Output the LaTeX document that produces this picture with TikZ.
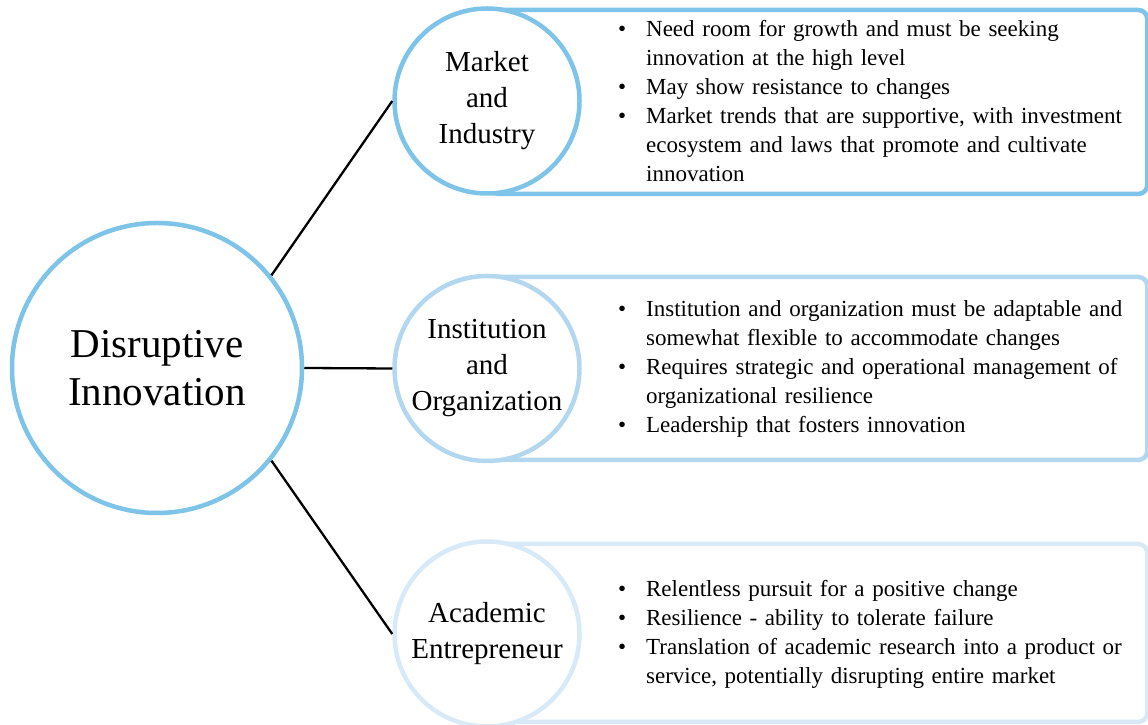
\documentclass[tikz,border=0pt]{standalone}
\usepackage{fontspec}
\setmainfont{Liberation Serif}
\usepackage{enumitem}
\usetikzlibrary{positioning,backgrounds}

\definecolor{bluedeep}{RGB}{126,195,232}
\definecolor{bluemid}{RGB}{178,215,239}
\definecolor{bluepale}{RGB}{216,234,248}

\setlist[itemize]{label=\textbullet, leftmargin=34pt, labelsep=20pt, nosep}

\begin{document}
\begin{tikzpicture}[x=1pt, y=1pt, thick]
    % Styles
    \tikzstyle{hub} = [circle, draw=bluedeep, line width=4.5pt, fill=white, minimum size=290pt, inner sep=0pt, align=center, font=\fontsize{41}{48}\selectfont]
    \tikzstyle{topic} = [circle, line width=4.5pt, fill=white, minimum size=185pt, inner sep=0pt, align=center, font=\fontsize{29}{36}\selectfont]
    \tikzstyle{panel} = [rectangle, rounded corners=9pt, line width=4.5pt, fill=white, minimum width=658pt, anchor=west]
    \tikzstyle{notes} = [text width=530pt, align=left, inner sep=0pt, yshift=6pt, font=\fontsize{23}{29}\selectfont]
    \tikzstyle{link} = [line width=2.3pt]

    \path[use as bounding box, clip] (0,0) rectangle (1148,725);

    % Centre
    \node [hub] (di) at (157,357) {Disruptive\\Innovation};

    % Topics
    \node [topic, draw=bluedeep] (mi) at (487,624) {Market\\and\\Industry};
    \node [topic, draw=bluemid] (io) at (487,356.5) {Institution\\and\\Organization};
    \node [topic, draw=bluepale] (ae) at (487,91) {Academic\\Entrepreneur};

    % Panels behind the topics
    \begin{scope}[on background layer]
        \node [panel, draw=bluedeep, minimum height=184pt] (mipanel) at ([yshift=-1pt]mi.center) {};
        \node [panel, draw=bluemid, minimum height=183pt] (iopanel) at (io.center) {};
        \node [panel, draw=bluepale, minimum height=178pt] (aepanel) at ([yshift=1pt]ae.center) {};
    \end{scope}

    % Connections
    \draw [link] (di.39) -- (mi.west);
    \draw [link] (di.east) -- (io.west);
    \draw [link] (di.-39) -- (ae.west);

    % Notes
    \node [notes, right=30pt of mi] (minotes) {%
        \begin{itemize}
            \item Need room for growth and must be seeking\newline innovation at the high level
            \item May show resistance to changes
            \item Market trends that are supportive, with investment\newline ecosystem and laws that promote and cultivate\newline innovation
        \end{itemize}};
    \node [notes, right=30pt of io] (ionotes) {%
        \begin{itemize}
            \item Institution and organization must be adaptable and\newline somewhat flexible to accommodate changes
            \item Requires strategic and operational management of\newline organizational resilience
            \item Leadership that fosters innovation
        \end{itemize}};
    \node [notes, right=30pt of ae] (aenotes) {%
        \begin{itemize}
            \item Relentless pursuit for a positive change
            \item Resilience - ability to tolerate failure
            \item Translation of academic research into a product or\newline service, potentially disrupting entire market
        \end{itemize}};

\end{tikzpicture}
\end{document}
